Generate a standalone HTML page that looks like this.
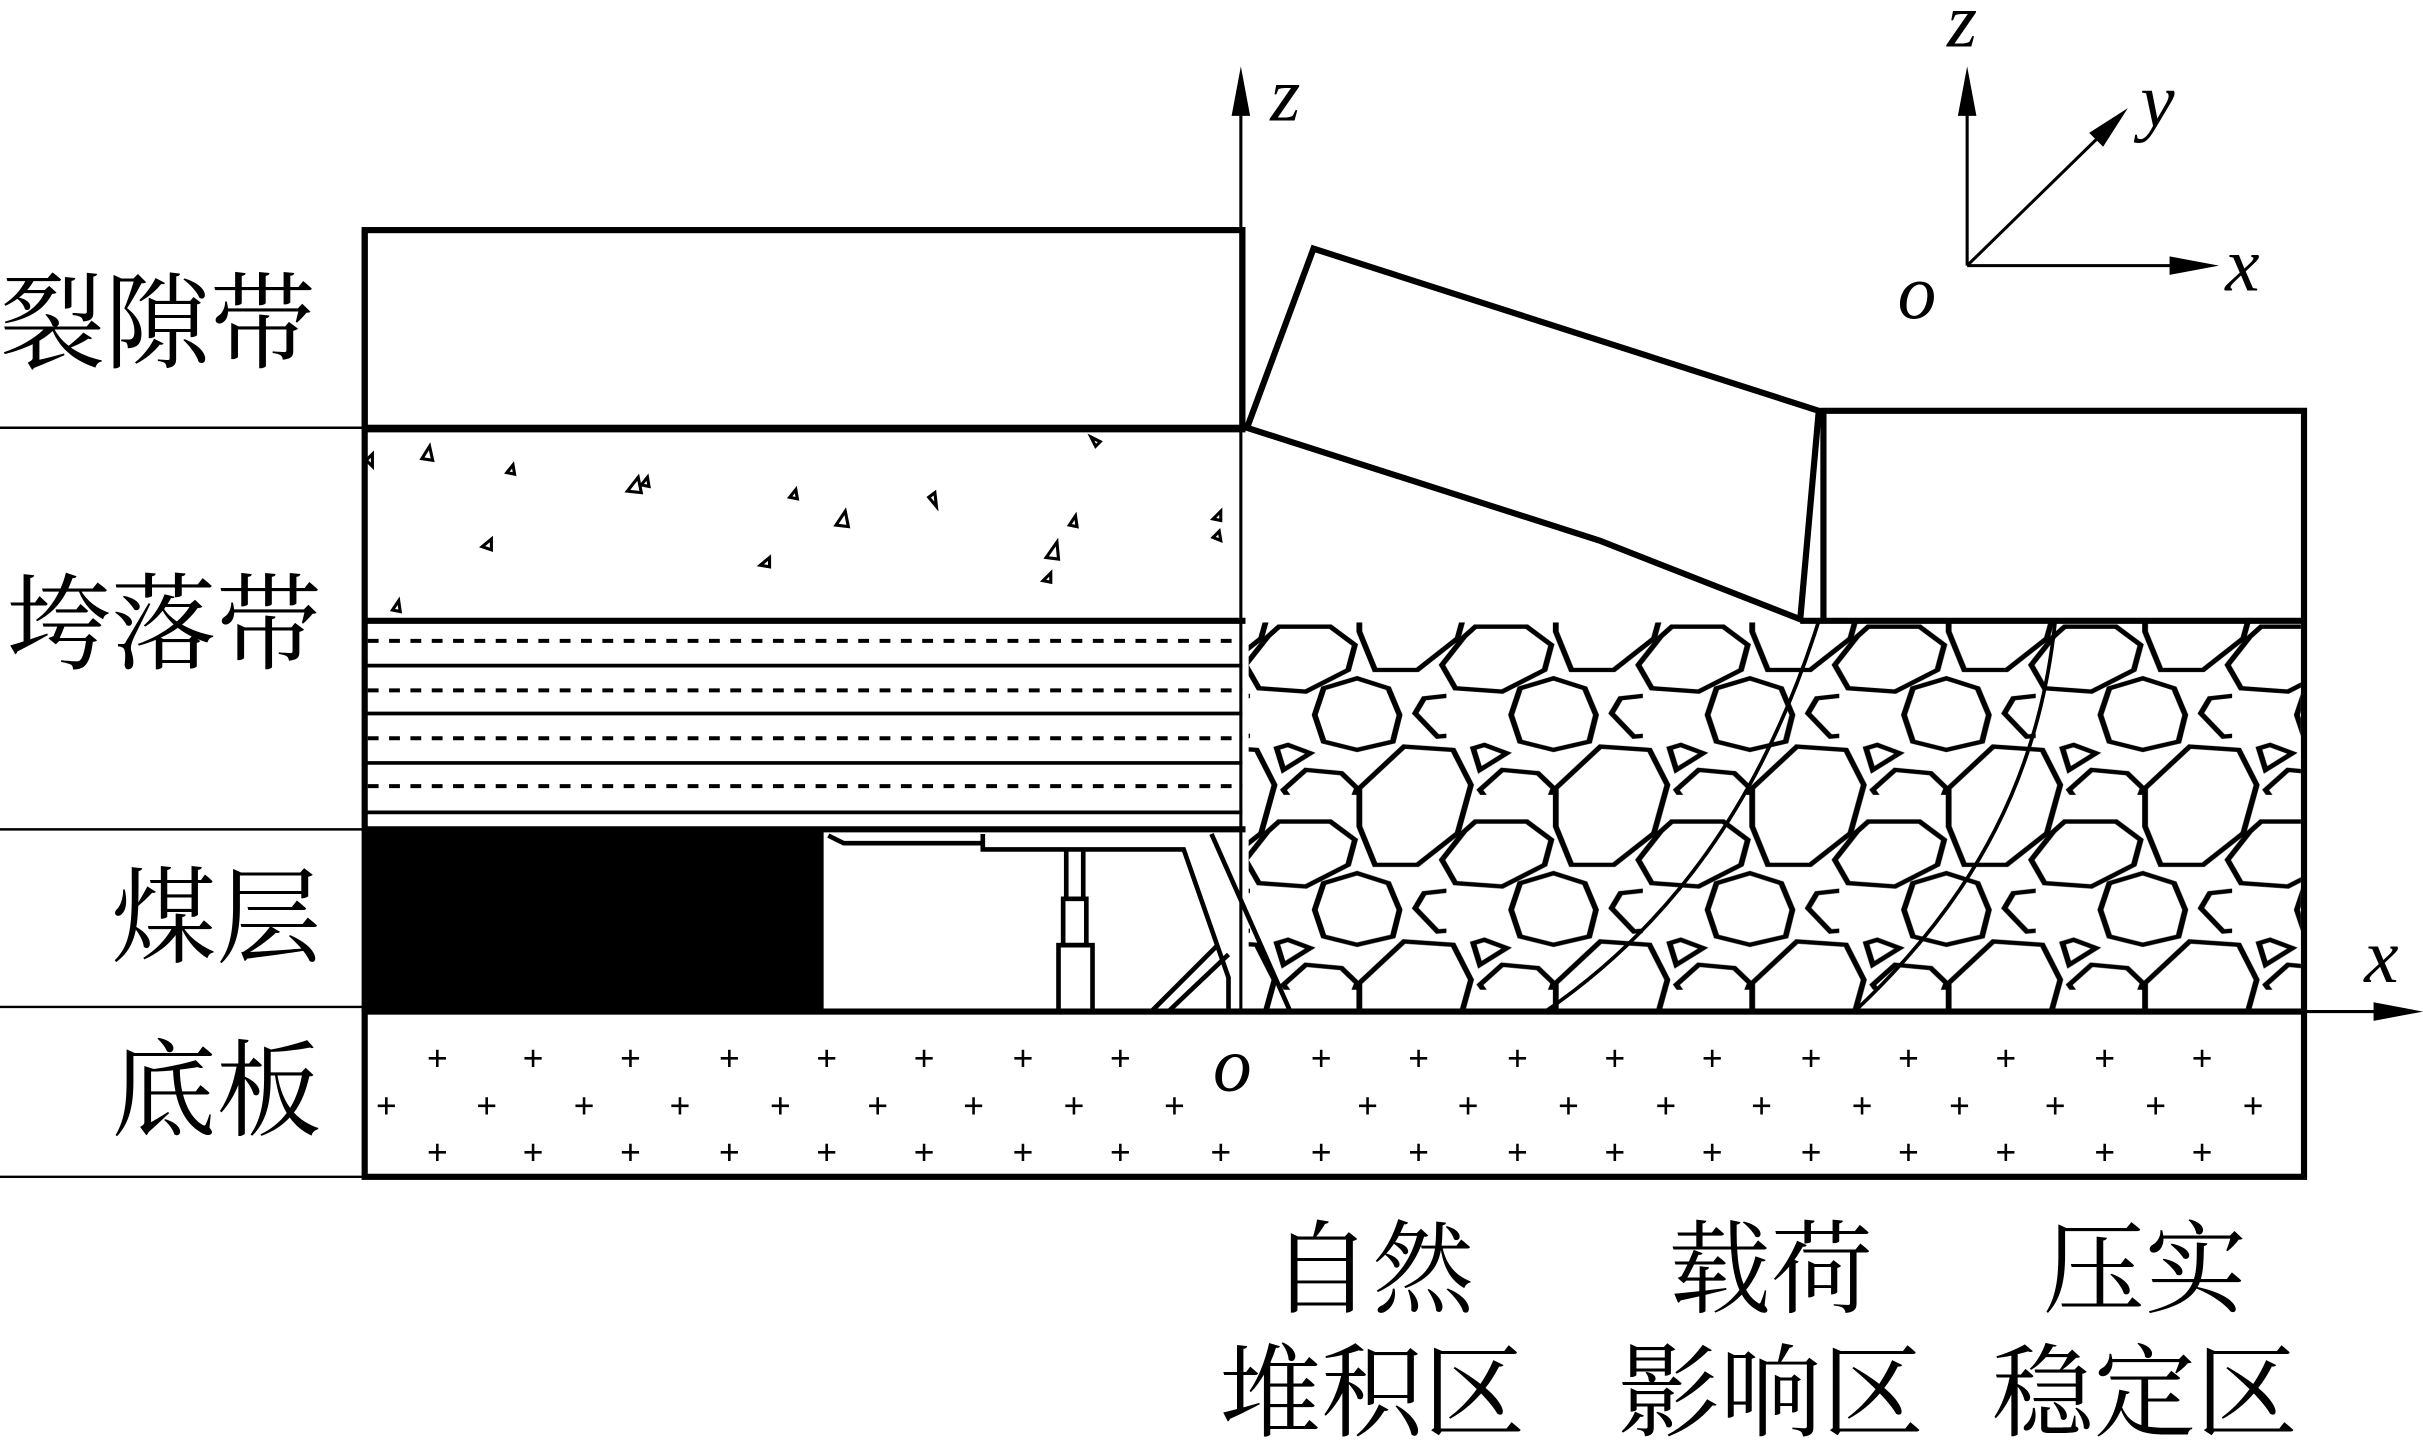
<!DOCTYPE html>
<html><head><meta charset="utf-8"><style>
html,body{margin:0;padding:0;background:#fff;}
svg{display:block;}
text{font-family:"Liberation Serif","Noto Serif CJK SC","Noto Sans CJK SC",serif;fill:#000;}
</style></head><body>
<svg width="2423" height="1444" viewBox="0 0 1568 935" preserveAspectRatio="none" xmlns="http://www.w3.org/2000/svg">
<defs>
<pattern id="rub" patternUnits="userSpaceOnUse" width="440" height="585" patternTransform="translate(808.9,388.5) scale(0.2889,0.2157)">
<g fill="none" stroke="#000" stroke-width="13" stroke-linejoin="miter">
<polygon points="345,440 455,450 495,555 465,700 375,795 280,795 245,680 245,565"/>
<polygon points="505,80 620,80 675,135 660,210 565,275 460,265 430,195 480,110"/>
<polygon points="65,80 180,80 235,135 220,210 125,275 20,265 -10,195 40,110"/>
<polygon points="505,665 620,665 675,720 660,795 565,860 460,850 430,780 480,695"/>
<polygon points="65,665 180,665 235,720 220,795 125,860 20,850 -10,780 40,695"/>
<polygon points="240,235 310,265 335,345 320,425 240,450 165,425 145,345 165,265"/>
<polygon points="390,295 460,285 550,320 555,345 515,400 420,410 370,340"/>
<polygon points="500,445 525,435 575,460 515,510"/>
<polygon points="60,445 85,435 135,460 75,510"/>
<polygon points="125,510 205,520 240,565 215,650 110,635 75,570"/>
<polygon points="565,510 645,520 680,565 655,650 550,635 515,570"/>
<polygon points="345,-145 455,-135 495,-30 465,115 375,210 280,210 245,95 245,-20"/>
<polygon points="-95,440 15,450 55,555 25,700 -65,795 -160,795 -195,680 -195,565"/>
<polygon points="-95,-145 15,-135 55,-30 25,115 -65,210 -160,210 -195,95 -195,-20"/>
<polygon points="240,820 310,850 335,930 320,1010 240,1035 165,1010 145,930 165,850"/>
<polygon points="390,-290 460,-300 550,-265 555,-240 515,-185 420,-175 370,-245"/>
</g>
</pattern>
<clipPath id="rc"><rect x="808" y="403" width="681" height="250"/></clipPath>
</defs>

<g stroke="#000" stroke-width="1.6">
<line x1="0" y1="277" x2="235" y2="277"/>
<line x1="0" y1="537" x2="235" y2="537"/>
<line x1="0" y1="652" x2="235" y2="652"/>
<line x1="0" y1="762" x2="235" y2="762"/>
</g>
<g font-size="68">
<text x="0" y="233">裂隙带</text>
<text x="4" y="428">垮落带</text>
<text x="72" y="618">煤层</text>
<text x="72" y="730">底板</text>
</g>

<rect x="808" y="403" width="681" height="250" fill="url(#rub)" clip-path="url(#rc)"/>
<g fill="none" stroke="#000">
<rect x="236" y="149" width="568" height="128" stroke-width="4"/>
<line x1="236" y1="278" x2="806" y2="278" stroke-width="4"/>
<line x1="236" y1="402" x2="806" y2="402" stroke-width="4"/>
<line x1="236" y1="537" x2="806" y2="537" stroke-width="4"/>
<line x1="236" y1="149" x2="236" y2="655" stroke-width="4"/>
<g stroke-width="2.4">
<line x1="236" y1="431" x2="804" y2="431"/>
<line x1="236" y1="462" x2="804" y2="462"/>
<line x1="236" y1="494" x2="804" y2="494"/>
<line x1="236" y1="526" x2="804" y2="526"/>
</g>
<g stroke-width="2.6" stroke-dasharray="7 6.8">
<line x1="238" y1="415" x2="804" y2="415"/>
<line x1="238" y1="447" x2="804" y2="447"/>
<line x1="238" y1="478" x2="804" y2="478"/>
<line x1="238" y1="509" x2="804" y2="509"/>
</g>
</g>
<g fill="none" stroke="#000" stroke-width="2">
<path d="M273,297 l5,-8 l2,9 z"/><path d="M328,306 l4,-5 l1,6 z"/><path d="M406,318 l7,-9 l2,10 z"/><path d="M415,314 l4,-5 l1,6 z"/>
<path d="M511,322 l4,-5 l1,6 z"/><path d="M541,340 l6,-9 l2,10 z"/><path d="M601,322 l4,-3 l1,9 z"/><path d="M677,361 l7,-10 l1,11 z"/>
<path d="M692,340 l4,-6 l1,7 z"/><path d="M675,376 l5,-5 l0,6 z"/><path d="M492,366 l6,-5 l0,6 z"/><path d="M312,354 l6,-5 l0,7 z"/>
<path d="M254,395 l4,-6 l1,7 z"/><path d="M785,336 l5,-5 l0,6 z"/><path d="M785,348 l4,-4 l1,6 z"/><path d="M706,283 l6,3 l-3,3 z"/><path d="M237,298 l4,-4 l0,8 z"/>
</g>
<rect x="236" y="537" width="297" height="118" fill="#000"/>
<g fill="none" stroke="#000" stroke-width="3">
<polyline points="536,541 546,546 636,546"/>
<polyline points="636,540 636,550 766,550 795,633 795,655"/>
<rect x="685" y="612" width="22" height="43"/>
<rect x="688" y="582" width="15" height="30"/>
<line x1="690" y1="551" x2="690" y2="582"/><line x1="701" y1="551" x2="701" y2="582"/>
<line x1="784" y1="540" x2="835" y2="655"/>
<line x1="745" y1="655" x2="788" y2="612"/><line x1="756" y1="655" x2="795" y2="618"/>
</g>
<g fill="none" stroke="#000" stroke-width="4">
<polygon points="807,277 850,161 1177,266 1165,401 1035,350" fill="#fff"/>
<polyline points="1178,266 1491,266 1491,655"/>
<line x1="1180" y1="266" x2="1180" y2="402"/>
<line x1="1165" y1="402" x2="1491" y2="402"/>
</g>
<g fill="none" stroke="#000" stroke-width="2.4">
<path d="M1000,655 C1080,600 1140,520 1177,402"/>
<path d="M1200,655 C1280,580 1320,500 1330,402"/>
</g>
<rect x="236" y="655" width="1255" height="107" fill="none" stroke="#000" stroke-width="4"/>
<g font-size="24" font-weight="bold" font-family="Liberation Sans" text-anchor="middle" style="font-family:'Liberation Sans',sans-serif">
<text x="283" y="693">+</text><text x="345" y="693">+</text><text x="408" y="693">+</text><text x="472" y="693">+</text><text x="535" y="693">+</text><text x="598" y="693">+</text><text x="662" y="693">+</text><text x="725" y="693">+</text><text x="855" y="693">+</text><text x="918" y="693">+</text><text x="982" y="693">+</text><text x="1045" y="693">+</text><text x="1108" y="693">+</text><text x="1172" y="693">+</text><text x="1235" y="693">+</text><text x="1298" y="693">+</text><text x="1362" y="693">+</text><text x="1425" y="693">+</text>
<text x="250" y="724">+</text><text x="315" y="724">+</text><text x="378" y="724">+</text><text x="440" y="724">+</text><text x="505" y="724">+</text><text x="568" y="724">+</text><text x="630" y="724">+</text><text x="695" y="724">+</text><text x="760" y="724">+</text><text x="885" y="724">+</text><text x="950" y="724">+</text><text x="1015" y="724">+</text><text x="1078" y="724">+</text><text x="1140" y="724">+</text><text x="1205" y="724">+</text><text x="1268" y="724">+</text><text x="1330" y="724">+</text><text x="1395" y="724">+</text><text x="1458" y="724">+</text>
<text x="283" y="754">+</text><text x="345" y="754">+</text><text x="408" y="754">+</text><text x="472" y="754">+</text><text x="535" y="754">+</text><text x="598" y="754">+</text><text x="662" y="754">+</text><text x="725" y="754">+</text><text x="790" y="754">+</text><text x="855" y="754">+</text><text x="918" y="754">+</text><text x="982" y="754">+</text><text x="1045" y="754">+</text><text x="1108" y="754">+</text><text x="1172" y="754">+</text><text x="1235" y="754">+</text><text x="1298" y="754">+</text><text x="1362" y="754">+</text><text x="1425" y="754">+</text>
</g>
<g stroke="#000" stroke-width="2">
<line x1="803" y1="655" x2="803" y2="60"/>
<line x1="1491" y1="655" x2="1550" y2="655"/>
<line x1="1273" y1="172" x2="1273" y2="60"/>
<line x1="1273" y1="172" x2="1418" y2="172"/>
<line x1="1273" y1="172" x2="1363" y2="84"/>
</g>
<g fill="#000">
<polygon points="803,43 797,75 809,75"/>
<polygon points="1568,655 1536,649 1536,661"/>
<polygon points="1273,43 1267,75 1279,75"/>
<polygon points="1436,172 1404,166 1404,178"/>
<polygon points="1377,70 1352,86 1361,95"/>
</g>
<g font-size="50" font-style="italic">
<text x="822" y="78">z</text>
<text x="1530" y="636">x</text>
<text x="785" y="706">o</text>
<text x="1260" y="30">z</text>
<text x="1385" y="82">y</text>
<text x="1440" y="188">x</text>
<text x="1228" y="206">o</text>
</g>
<g font-size="66" text-anchor="middle" style="font-family:'Liberation Sans','Noto Sans CJK SC',sans-serif">
<text x="888" y="845">自然</text>
<text x="888" y="925">堆积区</text>
<text x="1146" y="845">载荷</text>
<text x="1146" y="925">影响区</text>
<text x="1388" y="845">压实</text>
<text x="1388" y="925">稳定区</text>
</g>
</svg>
</body></html>
